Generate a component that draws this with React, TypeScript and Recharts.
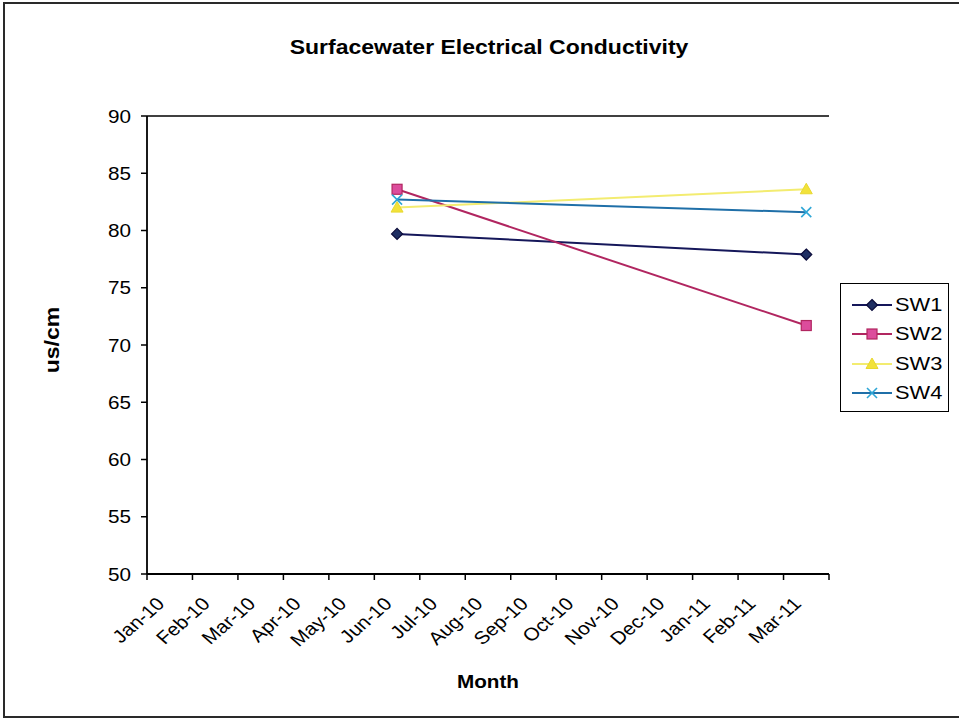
import React from "react";
import {
  LineChart,
  Line,
  XAxis,
  YAxis,
  CartesianGrid,
} from "recharts";

// Month categories on the x axis
const months = [
  "Jan-10", "Feb-10", "Mar-10", "Apr-10", "May-10", "Jun-10", "Jul-10",
  "Aug-10", "Sep-10", "Oct-10", "Nov-10", "Dec-10", "Jan-11", "Feb-11", "Mar-11",
];

// Sampling months and readings (us/cm) per site
const sampleMonths = ["Jun-10", "Mar-11"];
const sw1 = [79.7, 77.9];
const sw2 = [83.6, 71.7];
const sw3 = [82.0, 83.6];
const sw4 = [82.7, 81.6];

const yTicks = [50, 55, 60, 65, 70, 75, 80, 85, 90];

const data = months.map((m) => {
  const i = sampleMonths.indexOf(m);
  return {
    month: m,
    SW1: i >= 0 ? sw1[i] : null,
    SW2: i >= 0 ? sw2[i] : null,
    SW3: i >= 0 ? sw3[i] : null,
    SW4: i >= 0 ? sw4[i] : null,
  };
});

const W = 959;
const H = 724;
const PLOT_LEFT = 147;
const PLOT_RIGHT = 829;
const PLOT_TOP = 116;
const PLOT_BOTTOM = 574;
const BAND = (PLOT_RIGHT - PLOT_LEFT) / months.length;
const FONT = "'Liberation Sans', Arial, sans-serif";
const SX = 1.15; // text is set slightly wide

const series = [
  { key: "SW1", line: "#15175a", fill: "#1f2f63", stroke: "#0b0b3a", shape: "diamond" },
  { key: "SW2", line: "#b12660", fill: "#dc4c9c", stroke: "#b12660", shape: "square" },
  { key: "SW3", line: "#f3ec70", fill: "#f2e23a", stroke: "#e8d830", shape: "triangle" },
  { key: "SW4", line: "#1f6fa8", fill: "none", stroke: "#2ea6d6", shape: "x" },
];

function Marker({ shape, cx, cy, fill, stroke }: any) {
  if (shape === "diamond") {
    const r = 5.5;
    return (
      <polygon
        points={`${cx},${cy - r} ${cx + r},${cy} ${cx},${cy + r} ${cx - r},${cy}`}
        fill={fill}
        stroke={stroke}
        strokeWidth={1.2}
      />
    );
  }
  if (shape === "square") {
    const r = 5;
    return <rect x={cx - r} y={cy - r} width={2 * r} height={2 * r} fill={fill} stroke={stroke} strokeWidth={1.2} />;
  }
  if (shape === "triangle") {
    const r = 6;
    return (
      <polygon
        points={`${cx},${cy - r} ${cx + r},${cy + r * 0.75} ${cx - r},${cy + r * 0.75}`}
        fill={fill}
        stroke={stroke}
        strokeWidth={1}
      />
    );
  }
  const r = 5;
  return (
    <g stroke={stroke} strokeWidth={1.6}>
      <line x1={cx - r} y1={cy - r} x2={cx + r} y2={cy + r} />
      <line x1={cx - r} y1={cy + r} x2={cx + r} y2={cy - r} />
    </g>
  );
}

function makeDot(s: any) {
  return (props: any) => {
    const { cx, cy, value, index } = props;
    if (value == null || cy == null) return <g key={`${s.key}-${index}`} />;
    return (
      <g key={`${s.key}-${index}`}>
        <Marker shape={s.shape} cx={cx} cy={cy} fill={s.fill} stroke={s.stroke} />
      </g>
    );
  };
}

// Category labels sit at month centres; tick marks sit on month boundaries
function XTick(props: any) {
  const { x, payload, index } = props;
  const last = index === months.length - 1;
  return (
    <g>
      <line x1={x - BAND / 2} y1={PLOT_BOTTOM} x2={x - BAND / 2} y2={PLOT_BOTTOM + 6} stroke="#000" strokeWidth={1.5} />
      {last && (
        <line x1={x + BAND / 2} y1={PLOT_BOTTOM} x2={x + BAND / 2} y2={PLOT_BOTTOM + 6} stroke="#000" strokeWidth={1.5} />
      )}
      <text
        transform={`translate(${x - 4},${PLOT_BOTTOM + 31}) scale(${SX},1) rotate(-45)`}
        textAnchor="end"
        fontFamily={FONT}
        fontSize={18}
        fill="#000"
      >
        {payload.value}
      </text>
    </g>
  );
}

function YTick(props: any) {
  const { y, payload } = props;
  return (
    <g>
      <line x1={PLOT_LEFT - 6} y1={y} x2={PLOT_LEFT} y2={y} stroke="#000" strokeWidth={1.5} />
      <text
        transform={`translate(${PLOT_LEFT - 16},${y + 6.5}) scale(${SX},1)`}
        textAnchor="end"
        fontFamily={FONT}
        fontSize={18}
        fill="#000"
      >
        {payload.value}
      </text>
    </g>
  );
}

function LegendBox() {
  return (
    <div
      style={{
        position: "absolute",
        left: 840,
        top: 283,
        border: "1.5px solid #000",
        background: "#fff",
        width: 109,
        height: 129,
        boxSizing: "border-box",
        paddingTop: 6,
      }}
    >
      {series.map((s) => (
        <div key={s.key} style={{ display: "flex", alignItems: "center", height: 29.5 }}>
          <svg width={44} height={20} style={{ marginLeft: 9 }}>
            <line x1={2} y1={10} x2={42} y2={10} stroke={s.line} strokeWidth={2} />
            <Marker shape={s.shape} cx={22} cy={10} fill={s.fill} stroke={s.stroke} />
          </svg>
          <span
            style={{
              fontFamily: FONT,
              fontSize: 19,
              color: "#000",
              display: "inline-block",
              transform: `scale(${SX},1)`,
              transformOrigin: "left center",
              marginLeft: 1,
            }}
          >
            {s.key}
          </span>
        </div>
      ))}
    </div>
  );
}

export default function App() {
  return (
    <div style={{ position: "absolute", left: 0, top: 0, width: W, height: H, background: "#fff" }}>
      <div
        style={{
          position: "absolute",
          left: 3,
          top: 2,
          width: W,
          height: 716,
          border: "2px solid #2a2a2a",
          boxSizing: "border-box",
        }}
      />
      <div style={{ position: "absolute", left: 0, top: 0 }}>
        <LineChart
          width={W}
          height={H}
          data={data}
          margin={{ top: PLOT_TOP, right: W - PLOT_RIGHT, bottom: 0, left: 0 }}
        >
          <CartesianGrid vertical={false} stroke="#000" strokeWidth={1.3} />
          <XAxis
            dataKey="month"
            type="category"
            height={H - PLOT_BOTTOM}
            interval={0}
            padding={{ left: BAND / 2, right: BAND / 2 }}
            tickLine={false}
            tickSize={0}
            axisLine={{ stroke: "#000", strokeWidth: 1.8 }}
            tick={<XTick />}
          />
          <YAxis
            yAxisId="left"
            width={PLOT_LEFT}
            domain={[50, 90]}
            ticks={yTicks}
            interval={0}
            tickLine={false}
            axisLine={{ stroke: "#000", strokeWidth: 1.8 }}
            tick={<YTick />}
          />
          <YAxis
            yAxisId="right"
            orientation="right"
            width={0}
            domain={[50, 90]}
            tick={false}
            tickLine={false}
            axisLine={{ stroke: "#000", strokeWidth: 1.5 }}
          />
          {series.map((s) => (
            <Line
              key={s.key}
              yAxisId="left"
              dataKey={s.key}
              stroke={s.line}
              strokeWidth={2}
              connectNulls
              isAnimationActive={false}
              dot={makeDot(s)}
              activeDot={false}
            />
          ))}
          <text
            transform={`translate(489,54) scale(${SX},1)`}
            textAnchor="middle"
            fontFamily={FONT}
            fontWeight="bold"
            fontSize={20}
            fill="#000"
          >
            Surfacewater Electrical Conductivity
          </text>
          <text
            transform={`translate(488,688) scale(${SX},1)`}
            textAnchor="middle"
            fontFamily={FONT}
            fontWeight="bold"
            fontSize={18}
            fill="#000"
          >
            Month
          </text>
          <text
            transform={`translate(59,340) rotate(-90) scale(${SX},1)`}
            textAnchor="middle"
            fontFamily={FONT}
            fontWeight="bold"
            fontSize={20}
            fill="#000"
          >
            us/cm
          </text>
        </LineChart>
      </div>
      <LegendBox />
    </div>
  );
}
